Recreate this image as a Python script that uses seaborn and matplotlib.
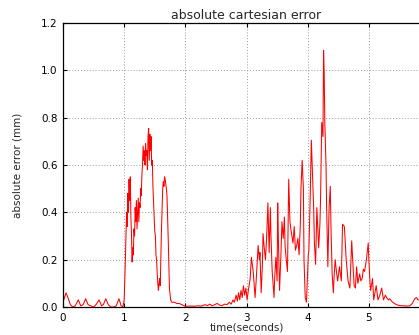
import numpy as np
import pandas as pd
import seaborn as sns
import matplotlib
matplotlib.use("Agg")
import matplotlib.pyplot as plt

# sample times (s) and absolute cartesian error (mm)
time_s = [
    0.00, 0.05, 0.08, 0.12, 0.16, 0.20, 0.25, 0.29, 0.33, 0.37, 0.41, 0.45, 0.50,
    0.54, 0.59, 0.63, 0.66, 0.70, 0.74, 0.78, 0.83, 0.87, 0.915, 0.95, 0.98,
    1.00, 1.02, 1.03, 1.04, 1.05, 1.06, 1.07, 1.08, 1.09, 1.10, 1.11, 1.12, 1.13,
    1.14, 1.15, 1.16, 1.17, 1.18, 1.19, 1.20, 1.21, 1.22, 1.23, 1.24, 1.25, 1.26,
    1.27, 1.28, 1.29, 1.30, 1.31, 1.32, 1.33, 1.34, 1.35, 1.36, 1.37, 1.38, 1.39,
    1.40, 1.41, 1.42, 1.43, 1.44, 1.45, 1.46, 1.47, 1.48, 1.49, 1.50, 1.51, 1.52,
    1.53, 1.54, 1.55, 1.56, 1.57, 1.58, 1.59, 1.60, 1.61, 1.62, 1.63, 1.64, 1.65,
    1.66, 1.67, 1.68, 1.69, 1.70, 1.71, 1.72, 1.73, 1.74, 1.76, 1.78, 1.82, 1.86,
    1.90, 1.94, 1.98,
    2.02, 2.08, 2.14, 2.20, 2.26, 2.32, 2.36, 2.40, 2.44, 2.48, 2.52, 2.56, 2.60,
    2.64, 2.68, 2.72, 2.75, 2.78, 2.80, 2.83, 2.85, 2.87, 2.89, 2.91, 2.93, 2.95,
    2.97, 2.99, 3.01, 3.03,
    3.06, 3.08, 3.10, 3.11, 3.13, 3.14, 3.16, 3.19, 3.21, 3.22, 3.24, 3.26, 3.27,
    3.29, 3.31, 3.33, 3.35, 3.37, 3.39, 3.40, 3.42, 3.45, 3.46, 3.48, 3.50, 3.51,
    3.52, 3.54, 3.56, 3.58, 3.60, 3.62, 3.63, 3.65, 3.67, 3.69, 3.71, 3.73, 3.76,
    3.78, 3.80, 3.82, 3.84, 3.86, 3.88, 3.89, 3.91, 3.93, 3.94, 3.96, 3.98, 4.00,
    4.01, 4.02, 4.04, 4.06, 4.08, 4.10, 4.11, 4.13, 4.15, 4.17, 4.18, 4.20, 4.21,
    4.23, 4.25, 4.26, 4.27, 4.28, 4.30, 4.31, 4.33, 4.35, 4.37, 4.38, 4.40, 4.42,
    4.43, 4.45, 4.47, 4.49, 4.52, 4.55, 4.57, 4.60, 4.63, 4.66, 4.69, 4.72, 4.74,
    4.76, 4.78, 4.80, 4.82, 4.85, 4.87, 4.89, 4.91, 4.93, 4.96, 4.99, 5.00, 5.02,
    5.03, 5.06, 5.08, 5.10, 5.12, 5.15, 5.18, 5.21, 5.24, 5.27, 5.29, 5.32, 5.34,
    5.37, 5.39, 5.42, 5.45, 5.50, 5.56, 5.62, 5.67, 5.71, 5.75, 5.78, 5.80, 5.82,
]
error_mm = [
    0.02, 0.06, 0.04, 0.01, 0.0, 0.005, 0.03, 0.005, 0.01, 0.035, 0.01, 0.005, 0.0,
    0.01, 0.03, 0.005, 0.01, 0.035, 0.01, 0.0, 0.0, 0.005, 0.035, 0.005, 0.0,
    0.03, 0.20, 0.31, 0.40, 0.34, 0.48, 0.40, 0.54, 0.45, 0.55, 0.38, 0.30, 0.19,
    0.25, 0.22, 0.33, 0.30, 0.42, 0.36, 0.45, 0.33, 0.40, 0.46, 0.36, 0.44, 0.42,
    0.50, 0.47, 0.56, 0.60, 0.68, 0.62, 0.66, 0.60, 0.69, 0.64, 0.66, 0.58, 0.72,
    0.755, 0.62, 0.73, 0.66, 0.72, 0.60, 0.62, 0.51, 0.45, 0.38, 0.32, 0.30, 0.22,
    0.20, 0.14, 0.10, 0.07, 0.10, 0.12, 0.09, 0.22, 0.33, 0.42, 0.50, 0.53, 0.51,
    0.55, 0.54, 0.52, 0.50, 0.47, 0.38, 0.29, 0.18, 0.08, 0.03, 0.02, 0.02, 0.015,
    0.015, 0.01, 0.005,
    0.003, 0.004, 0.003, 0.005, 0.004, 0.01, 0.006, 0.012, 0.005, 0.01, 0.015, 0.008, 0.006,
    0.012, 0.01, 0.02, 0.012, 0.03, 0.02, 0.05, 0.025, 0.06, 0.03, 0.07, 0.04, 0.09,
    0.05, 0.08, 0.03, 0.07,
    0.12, 0.21, 0.17, 0.15, 0.08, 0.04, 0.12, 0.26, 0.20, 0.23, 0.06, 0.18, 0.31,
    0.25, 0.20, 0.30, 0.44, 0.23, 0.42, 0.30, 0.15, 0.04, 0.12, 0.21, 0.11, 0.44,
    0.30, 0.07, 0.20, 0.36, 0.29, 0.38, 0.26, 0.20, 0.15, 0.54, 0.36, 0.32, 0.27,
    0.34, 0.24, 0.26, 0.29, 0.22, 0.35, 0.50, 0.62, 0.50, 0.20, 0.04, 0.02, 0.15,
    0.22, 0.24, 0.45, 0.705, 0.55, 0.40, 0.27, 0.18, 0.42, 0.30, 0.25, 0.35, 0.45,
    0.78, 0.72, 1.085, 0.99, 0.78, 0.60, 0.42, 0.17, 0.42, 0.51, 0.35, 0.14, 0.06,
    0.12, 0.20, 0.15, 0.11, 0.17, 0.11, 0.35, 0.34, 0.20, 0.11, 0.08, 0.28, 0.18,
    0.09, 0.08, 0.17, 0.10, 0.14, 0.11, 0.12, 0.16, 0.15, 0.20, 0.27, 0.20, 0.10,
    0.07, 0.12, 0.03, 0.06, 0.09, 0.03, 0.05, 0.08, 0.03, 0.05, 0.04, 0.03, 0.035,
    0.025, 0.02, 0.015, 0.01, 0.006, 0.005, 0.004, 0.005, 0.015, 0.035, 0.04, 0.03, 0.03,
]

x_ticks = [0, 1, 2, 3, 4, 5]
y_ticks = [0.0, 0.2, 0.4, 0.6, 0.8, 1.0, 1.2]

sns.set_style("white")
plt.rcParams["font.family"] = ["DejaVu Sans"]

df = pd.DataFrame({"time": time_s, "error": error_mm})

fig = plt.figure(figsize=(4.19, 3.35), dpi=100)
ax = fig.add_axes([63 / 419, 28 / 335, 1 - 63 / 419, 284 / 335])

sns.lineplot(data=df, x="time", y="error", ax=ax, color="red",
             linewidth=0.75, estimator=None, sort=False)

x_max = 5.82
ax.set_xlim(0, x_max)
ax.set_ylim(0, 1.2)
ax.set_xticks(x_ticks)
ax.set_yticks(y_ticks)
ax.set_yticklabels([f"{v:.1f}" for v in y_ticks])
ax.tick_params(direction="in", length=3, width=0.8, labelsize=7.5,
               colors="black", top=True, bottom=True, left=True, right=False)
ax.tick_params(axis="x", pad=4)
ax.tick_params(axis="y", pad=4)

ax.grid(True, linestyle=(0, (1, 2)), color="#9a9a9a", linewidth=0.7)
for side in ["left", "bottom", "top"]:
    ax.spines[side].set_color("black")
    ax.spines[side].set_linewidth(0.9)
ax.spines["right"].set_visible(False)

ax.set_title("absolute cartesian error", fontsize=9, x=3.0 / x_max, pad=3)
ax.set_xlabel("time(seconds)", fontsize=7.5)
ax.set_ylabel("absolute error (mm)", fontsize=7.5)
ax.xaxis.set_label_coords(3.0 / x_max, -0.055)
ax.yaxis.set_label_coords(-0.115, 0.5)

fig.savefig("out.png", dpi=100)
